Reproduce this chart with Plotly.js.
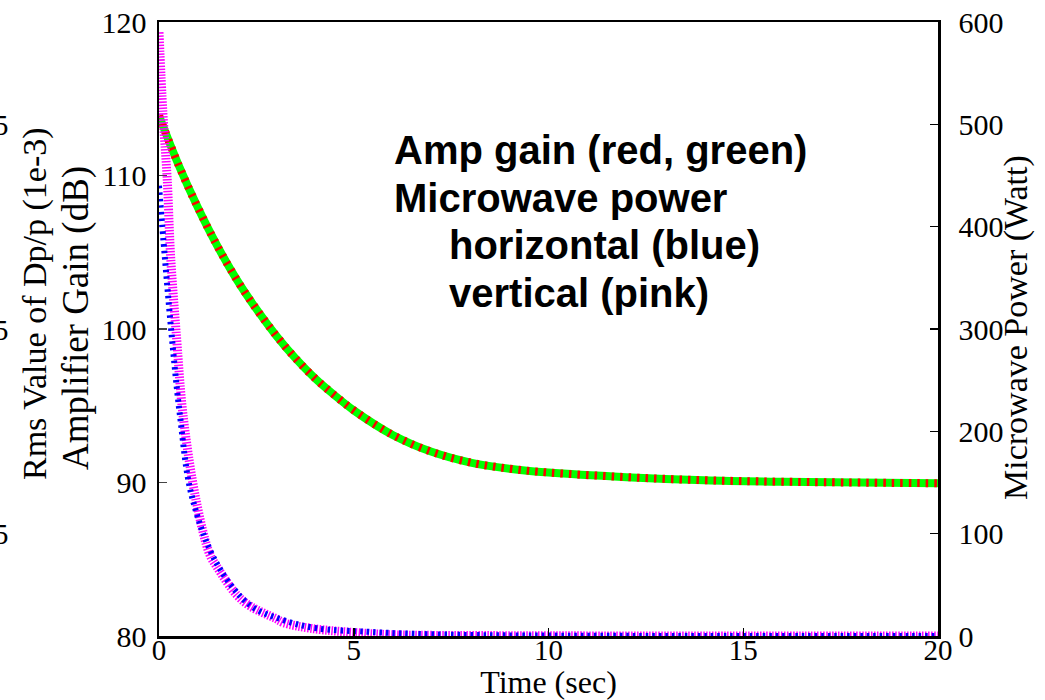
<!DOCTYPE html>
<html>
<head>
<meta charset="utf-8">
<script src="https://cdn.plot.ly/plotly-3.0.1.min.js"></script>
<style>
html,body{margin:0;padding:0;background:#fff;}
#chart{width:1045px;height:700px;}
</style>
</head>
<body>
<div id="chart"></div>
<script>
// Amplifier gain (dB) vs time (sec)
var gainTime = [0, 0.5, 1.0, 1.5, 2.0, 2.5, 3.0, 3.5, 4.0, 4.5, 5.0, 6.0, 7.0, 8.0, 9.0, 10, 12, 14, 16, 20];
var gainDb   = [113.9, 110.7, 107.9, 105.4, 103.2, 101.3, 99.6, 98.1, 96.8, 95.7, 94.7, 93.1, 92.0, 91.3, 90.9, 90.65, 90.35, 90.15, 90.05, 89.95];

// Microwave power (Watt), vertical (pink)
var pinkTime = [0, 0.1, 0.21, 0.30, 0.45, 0.62, 0.95, 1.30, 1.48, 2.0, 2.35, 3.0, 3.2, 3.9, 5.3, 6.2, 8, 10, 14, 20];
var pinkWatt = [590, 511, 447, 370, 292, 215, 133, 80, 68, 40, 29, 17, 13, 7.5, 2.6, 1, 0.5, 0.2, 0, 0];

// Microwave power (Watt), horizontal (blue)
var blueTime = [0, 0.15, 0.33, 0.54, 0.84, 1.48, 2.34, 3.19, 4.05, 5.33, 6.19, 8, 10, 14, 20];
var blueWatt = [440, 370, 292, 215, 137, 71, 30, 15.6, 7.5, 4.2, 2.6, 1, 0.4, 0, 0];

// Axis ticks
var xTicks = [0, 5, 10, 15, 20];
var gainTicks = [80, 90, 100, 110, 120];
var powerTicks = [0, 100, 200, 300, 400, 500, 600];
// Partially visible third axis (Rms Value of Dp/p, 1e-3), range 0..3
var rmsRange = [0, 3];
var rmsTicks = [0.5, 1.5, 2.5];

// Titles and note text
var xTitle = 'Time (sec)';
var rmsTitle = 'Rms Value of Dp/p (1e-3)';
var gainTitle = 'Amplifier Gain (dB)';
var powerTitle = 'Microwave Power (Watt)';
var noteLines = ['Amp gain (red, green)', 'Microwave power', 'horizontal (blue)', 'vertical (pink)'];
var noteIndent = [0, 0, 1, 1];

var serif = 'Liberation Serif, Times New Roman, serif';
var sans = 'Liberation Sans, Arial, sans-serif';

var traces = [
  {x: gainTime, y: gainDb, yaxis: 'y', mode: 'lines', line: {color: '#00ff00', width: 8, shape: 'spline'}},
  {x: gainTime, y: gainDb, yaxis: 'y', mode: 'lines', line: {color: '#ff0000', width: 8, dash: '2.5px,6px', shape: 'spline'}},
  {x: pinkTime, y: pinkWatt, yaxis: 'y2', mode: 'lines', line: {color: '#ff00ff', width: 9, dash: '1.5px,1.5px', shape: 'spline'}},
  {x: blueTime, y: blueWatt, yaxis: 'y2', mode: 'lines', line: {color: '#0000ff', width: 6, dash: '2.5px,4px', shape: 'spline'}}
];

function px2x(px) { return (px - 159) / 779; }
function py2y(py) { return (636 - py) / 614; }

var annotations = [];
noteLines.forEach(function (t, i) {
  annotations.push({
    xref: 'paper', yref: 'paper', x: px2x(noteIndent[i] ? 447 : 392), y: py2y(150 + i * 47.5),
    xanchor: 'left', yanchor: 'middle', showarrow: false, text: t,
    font: {family: sans, size: 40, color: '#000', weight: 'bold'}
  });
});
annotations.push({
  xref: 'paper', yref: 'paper', x: px2x(35), y: py2y(304), xanchor: 'center', yanchor: 'middle',
  showarrow: false, textangle: -90, text: rmsTitle, font: {family: serif, size: 34, color: '#000'}
}, {
  xref: 'paper', yref: 'paper', x: px2x(76), y: py2y(318), xanchor: 'center', yanchor: 'middle',
  showarrow: false, textangle: -90, text: gainTitle, font: {family: serif, size: 37, color: '#000'}
}, {
  xref: 'paper', yref: 'paper', x: px2x(1016), y: py2y(328), xanchor: 'center', yanchor: 'middle',
  showarrow: false, textangle: -90, text: powerTitle, font: {family: serif, size: 34, color: '#000'}
});
rmsTicks.forEach(function (v) {
  annotations.push({
    xref: 'paper', yref: 'paper', x: px2x(11), y: (v - rmsRange[0]) / (rmsRange[1] - rmsRange[0]),
    xanchor: 'right', yanchor: 'middle', showarrow: false, text: String(v),
    font: {family: serif, size: 30, color: '#000'}
  });
});

var layout = {
  width: 1045, height: 700,
  margin: {l: 159, r: 107, t: 22, b: 64},
  paper_bgcolor: '#fff', plot_bgcolor: '#fff',
  showlegend: false, hovermode: false,
  font: {family: serif, color: '#000'},
  xaxis: {
    range: [0, 20], tickvals: xTicks, ticks: 'inside', ticklen: 8, tickwidth: 1.5, tickcolor: '#000',
    showline: true, linecolor: '#000', linewidth: 2.5, mirror: true, showgrid: false, zeroline: false,
    tickfont: {family: serif, size: 29}, ticklabelstandoff: -13,
    title: {text: xTitle, font: {family: serif, size: 32}, standoff: 4}
  },
  yaxis: {
    range: [80, 120], tickvals: gainTicks, ticks: 'inside', ticklen: 8, tickwidth: 1.5, tickcolor: '#444',
    showline: true, linecolor: '#000', linewidth: 2.5, showgrid: false, zeroline: false,
    tickfont: {family: serif, size: 30}, ticklabelstandoff: 4
  },
  yaxis2: {
    range: [0, 600], tickvals: powerTicks, overlaying: 'y', side: 'right', anchor: 'x',
    ticks: 'inside', ticklen: 8, tickwidth: 1.5, tickcolor: '#000',
    showline: true, linecolor: '#000', linewidth: 2.5, showgrid: false, zeroline: false,
    tickfont: {family: serif, size: 30}, ticklabelstandoff: 12
  },
  annotations: annotations
};

Plotly.newPlot('chart', traces, layout, {displayModeBar: false, staticPlot: true});
</script>
</body>
</html>
